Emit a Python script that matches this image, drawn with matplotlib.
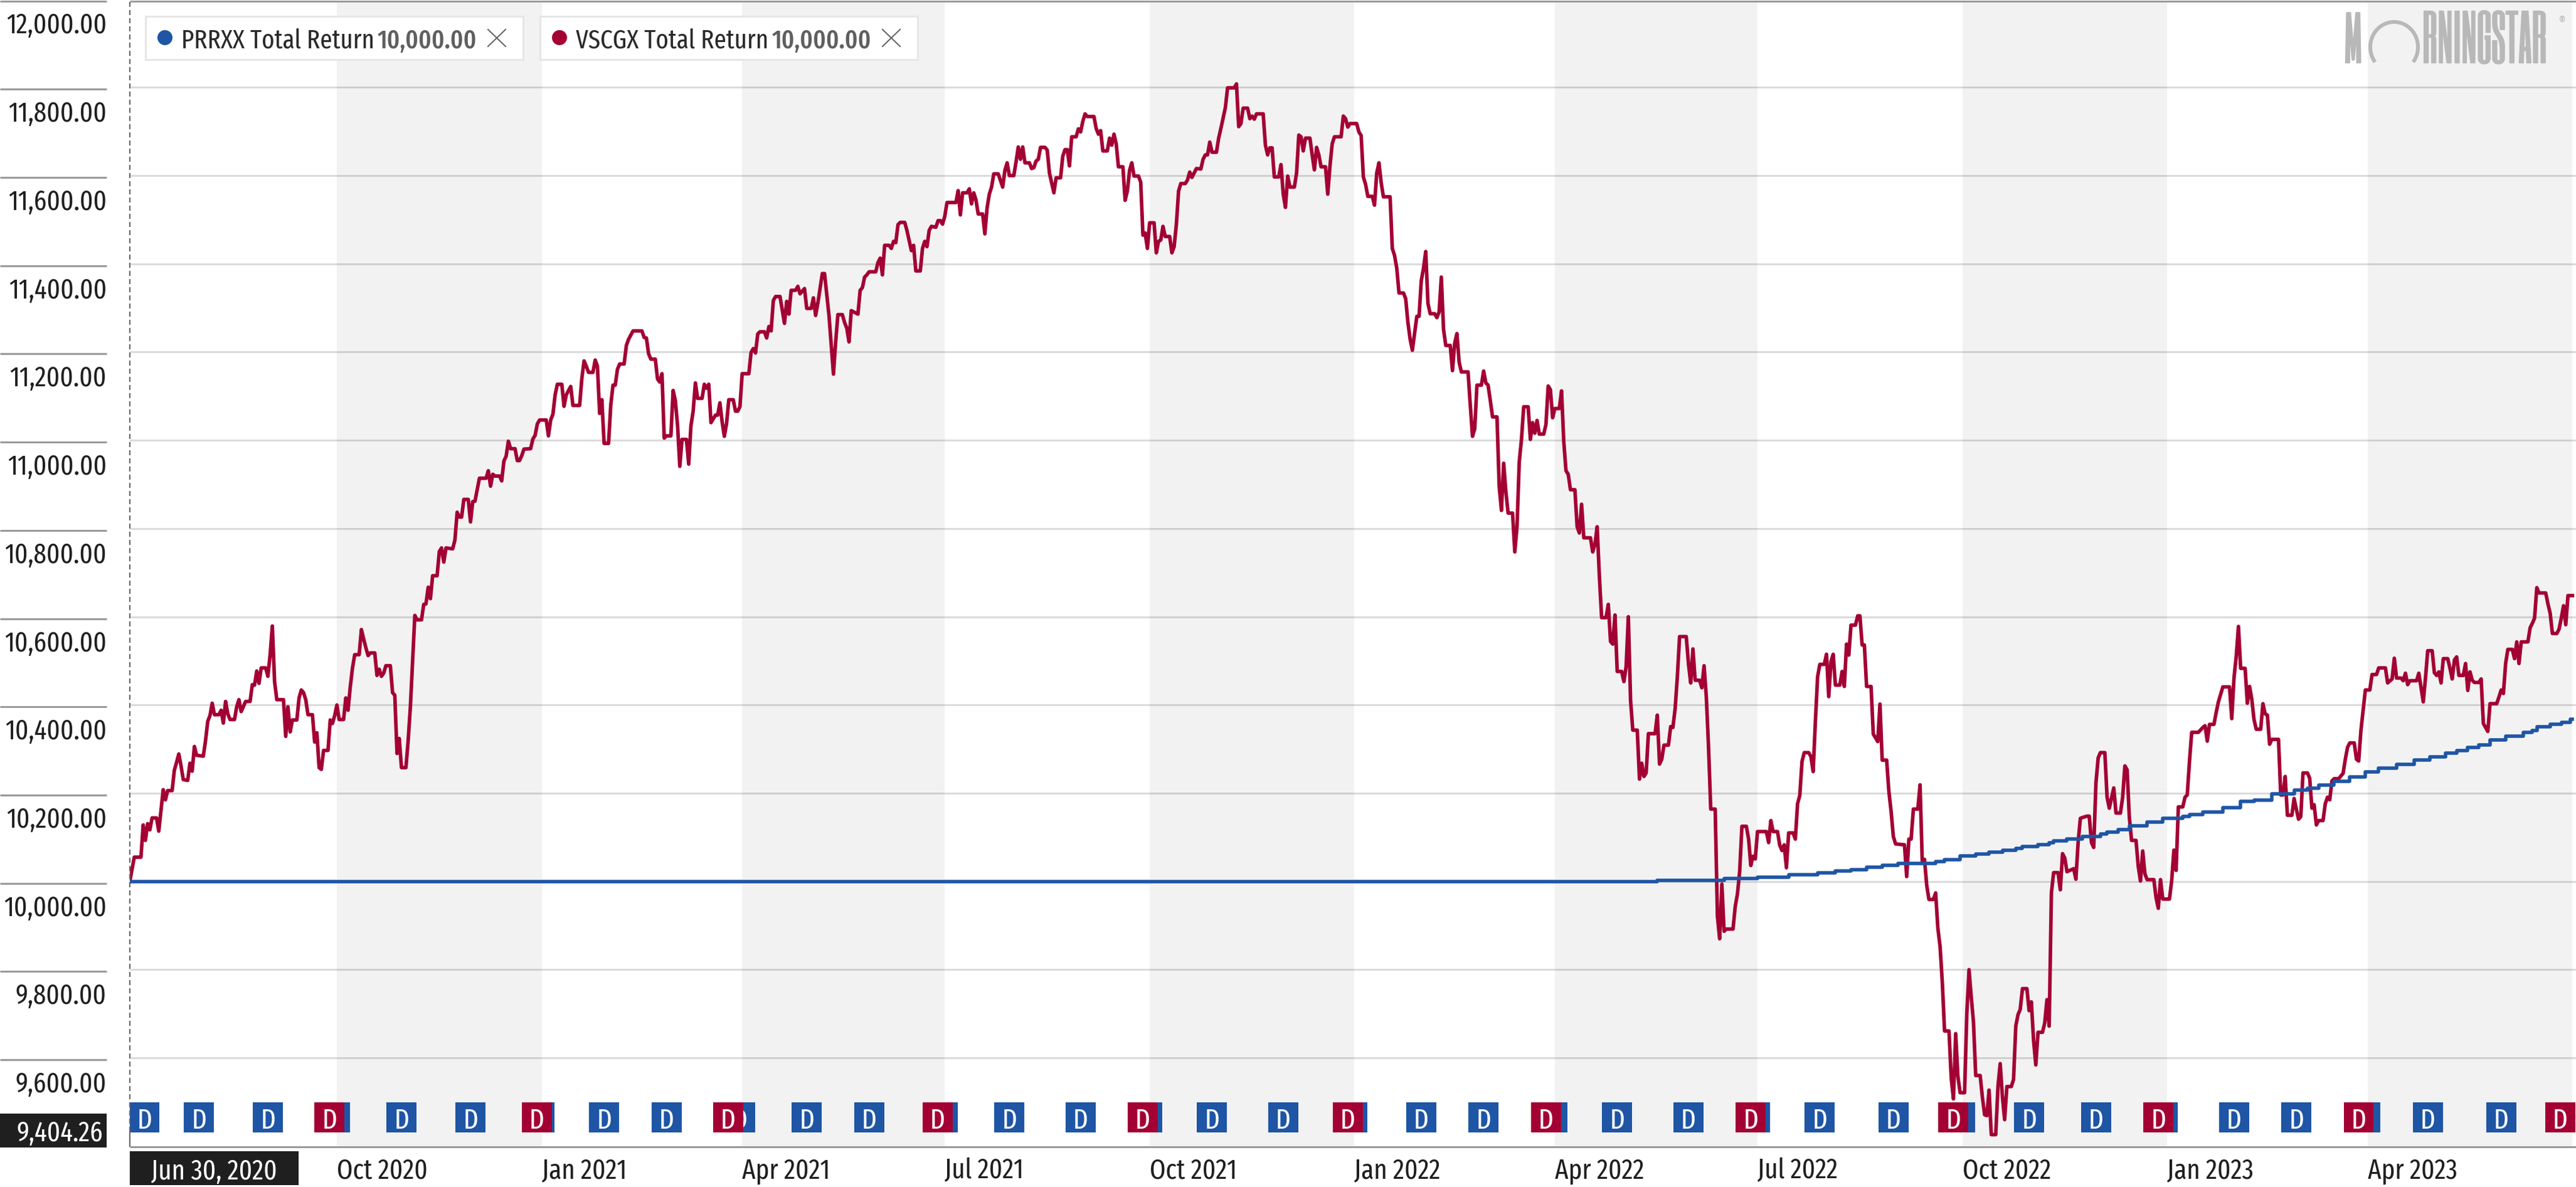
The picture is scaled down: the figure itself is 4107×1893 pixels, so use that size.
import numpy as np
import matplotlib
matplotlib.use('Agg')
import matplotlib.pyplot as plt
from matplotlib.lines import Line2D
from matplotlib.patches import Rectangle, Circle
from matplotlib.patheffects import withStroke
from matplotlib.transforms import Affine2D

W, H = 4107, 1893

#%% data - x is days since Jun 30, 2020

vscgx_days = [
    0,2,5,6,7,8,9,10,12,13,15,16,17,19,20,21,22,23,24,26,
    27,28,29,30,33,34,35,36,37,38,40,41,42,43,44,45,47,48,49,50,
    52,54,55,56,57,58,59,61,62,63,64,65,66,69,70,71,72,73,75,76,
    77,78,79,80,82,83,84,85,86,87,89,90,91,92,93,94,96,97,98,99,
    100,101,103,104,105,106,107,108,110,111,112,113,114,115,117,118,119,120,121,122,
    124,125,126,127,128,129,131,132,133,134,135,136,138,139,140,141,142,145,146,147,
    148,149,150,152,153,154,155,156,157,160,161,162,163,164,166,167,168,169,170,171,
    173,174,175,176,177,180,181,182,183,184,187,188,189,190,191,192,194,195,196,198,
    199,202,203,204,205,206,208,
    209,210,211,212,213,215,216,217,218,219,220,222,223,224,226,230,231,232,233,234,
    236,237,238,239,240,241,243,244,245,246,247,248,250,251,252,253,254,255,257,258,
    259,260,261,263,264,265,266,267,268,269,271,272,273,274,275,278,279,280,281,282,
    283,285,286,287,288,289,290,292,294,
    295,296,297,299,300,301,303,304,306,307,308,309,311,312,314,316,317,318,320,321,
    322,323,324,327,328,329,330,331,332,335,336,337,338,339,341,342,343,344,345,346,
    348,349,351,352,353,355,356,357,358,359,360,362,363,364,365,366,367,371,372,373,
    374,376,377,378,379,380,381,383,384,385,386,387,388,390,392,393,394,395,397,398,
    399,400,401,402,404,405,406,407,408,409,411,412,413,415,416,418,419,420,421,422,
    423,425,426,427,428,429,430,433,434,435,436,437,439,440,441,442,443,444,446,447,
    448,449,450,451,453,454,455,456,457,458,460,461,462,463,464,465,467,468,469,470,
    471,472,474,475,476,477,479,481,482,483,484,485,486,488,489,490,492,493,496,497,
    498,499,500,502,503,504,505,506,509,510,511,512,513,514,516,517,518,519,520,521,
    523,524,525,526,527,528,530,531,532,533,534,535,537,538,539,540,541,544,545,546,
    547,548,551,552,553,554,555,556,558,559,560,561,562,563,566,567,568,569,570,572,
    573,574,575,576,578,579,580,581,
    582,583,584,586,587,588,589,590,591,593,594,595,596,597,598,601,602,603,604,605,
    607,608,609,610,611,612,614,
    615,616,617,618,619,621,622,623,624,625,626,628,629,630,631,632,633,635,636,637,
    638,639,640,642,643,644,645,646,647,649,650,651,652,653,656,657,658,659,660,661,
    663,664,665,666,667,668,670,671,672,673,674,675,677,678,679,680,681,682,685,686,
    687,688,689,691,692,693,694,695,696,699,700,701,702,703,705,706,707,708,709,710,
    712,713,714,715,716,717,720,721,722,723,724,726,727,728,729,730,731,735,736,737,
    738,740,741,742,743,744,745,747,748,749,750,751,752,754,755,756,757,758,759,761,
    762,763,764,765,766,768,769,770,771,772,773,775,776,777,778,779,780,782,783,785,
    786,787,789,790,791,792,793,797,798,799,800,801,803,804,
    805,806,807,808,810,811,812,813,814,815,817,818,819,820,821,822,824,825,826,827,
    828,829,831,832,833,834,835,836,838,839,840,841,842,843,845,846,847,848,849,850,
    852,853,854,855,856,857,859,860,861,862,
    863,864,866,867,868,869,870,873,874,875,876,877,879,880,881,882,883,884,885,887,
    888,889,891,892,894,895,896,897,898,899,901,902,903,904,905,906,909,910,911,912,
    913,916,917,918,919,920,922,923,924,925,926,929,931,932,933,934,936,937,938,940,
    943,944,945,946,947,948,950,951,952,953,954,955,957,958,959,960,961,962,965,966,
    967,968,969,971,972,973,974,975,976,978,979,980,981,982,983,985,986,987,988,989,
    990,992,994,995,996,997,999,1000,1001,1002,1004,1006,1007,1009,1010,1013,1014,1016,1017,1018,
    1020,1021,1022,1023,1024,1027,1028,1029,1030,1031,1032,1034,1035,1036,1037,1038,1039,1041,1042,1043,
    1044,1045,1046,1048,1049,1050,1051,1052,1053,1055,1056,1057,1059,1060,1063,1064,1065,1066,1067,1068,
    1070,1071,1072,1073,1074,1077,1078,1079,1080,1081,1082,1085,1086,1087,1088,1090,1091,1092,1093,1094,
    1095,1097]

vscgx_values = [
    10000,10055,10055,10128,10093,10131,10117,10144,10144,10114,10208,10185,10206,10206,10252,10270,10289,10262,10231,10229,
    10268,10250,10306,10286,10284,10319,10363,10376,10404,10378,10378,10388,10359,10408,10380,10367,10367,10396,10412,10385,
    10408,10408,10446,10445,10477,10449,10484,10484,10465,10514,10579,10453,10412,10412,10329,10396,10339,10366,10366,10416,
    10434,10428,10412,10378,10378,10316,10337,10258,10254,10297,10297,10366,10358,10376,10400,10367,10367,10416,10388,10441,
    10484,10514,10514,10571,10550,10530,10512,10518,10518,10467,10481,10465,10472,10489,10489,10428,10422,10290,10324,10258,
    10258,10319,10396,10498,10603,10593,10593,10628,10629,10667,10641,10693,10693,10748,10756,10724,10756,10754,10774,10837,
    10826,10826,10866,10866,10815,10861,10862,10888,10914,10914,10931,10896,10923,10919,10919,10908,10953,10964,10998,10981,
    10981,10954,10954,10965,10980,10981,11003,11011,11037,11046,11046,11010,11046,11059,11103,11127,11127,11077,11103,11122,
    11079,11079,11140,11180,11168,11154,11154,
    11182,11168,11061,11092,10993,10993,11080,11125,11125,11161,11173,11173,11215,11229,11248,11248,11233,11232,11196,11184,
    11184,11139,11132,11151,11005,11010,11010,11113,11090,11033,10941,11002,11002,10946,11033,11066,11130,11095,11095,11127,
    11118,11127,11040,11057,11057,11085,11042,11009,11038,11092,11092,11066,11066,11076,11151,11151,11199,11208,11198,11241,
    11246,11246,11232,11258,11248,11317,11326,11326,11265,
    11315,11286,11340,11340,11349,11332,11344,11299,11299,11323,11283,11311,11378,11378,11283,11150,11223,11285,11285,11267,
    11254,11223,11294,11286,11340,11346,11370,11375,11382,11382,11403,11413,11375,11442,11442,11435,11451,11448,11489,11494,
    11494,11476,11430,11442,11384,11384,11435,11451,11439,11476,11485,11483,11498,11498,11490,11508,11539,11539,11566,11511,
    11561,11561,11570,11536,11561,11545,11513,11513,11468,11527,11558,11574,11604,11604,11574,11612,11629,11600,11600,11631,
    11665,11637,11665,11629,11629,11616,11618,11633,11637,11664,11664,11658,11606,11561,11595,11595,11644,11659,11659,11622,
    11688,11688,11706,11699,11723,11740,11734,11734,11707,11694,11702,11656,11656,11685,11669,11694,11672,11620,11620,11544,
    11565,11612,11629,11599,11599,11585,11465,11470,11435,11493,11493,11425,11451,11454,11485,11462,11462,11425,11439,11489,
    11565,11582,11582,11590,11608,11596,11616,11615,11637,11647,11647,11676,11653,11653,11685,11707,11754,11799,11799,11808,
    11711,11718,11753,11753,11729,11735,11728,11740,11740,11669,11647,11663,11663,11597,11597,11625,11558,11528,11599,11574,
    11574,11606,11692,11688,11656,11685,11685,11647,11613,11664,11647,11620,11620,11558,11622,11672,11688,11688,11735,11729,
    11710,11718,11718,11699,11691,11597,11580,11553,11553,11533,11606,11629,11584,11552,11552,11435,11419,11390,11334,11334,
    11321,11267,11229,11204,11281,11281,11362,11390,
    11428,11310,11287,11287,11278,11291,11370,11251,11215,11215,11158,11220,11242,11177,11155,11155,11080,11009,11026,11125,
    11125,11157,11130,11125,11090,11053,11053,
    10895,10841,10948,10883,10835,10835,10747,10804,10951,11002,11076,11076,11002,11040,11016,11045,11014,11014,11036,11123,
    11115,11051,11072,11072,11112,10997,10931,10923,10888,10888,10804,10790,10855,10779,10779,10747,10764,10804,10691,10598,
    10598,10628,10544,10538,10604,10476,10476,10453,10487,10600,10410,10343,10343,10232,10268,10238,10246,10335,10335,10377,
    10266,10277,10309,10309,10351,10349,10391,10464,10555,10555,10493,10450,10527,10456,10456,10439,10489,10419,10306,10164,
    10164,9921,9870,9994,9887,9892,9892,9943,9972,10023,10125,10125,10096,10036,10057,10051,10113,10113,10088,10138,
    10113,10113,10082,10070,10083,10031,10110,10110,10096,10176,10195,10272,10292,10292,10283,10249,10362,10464,10492,10492,
    10515,10419,10498,10515,10445,10445,10476,10442,10538,10513,10581,10581,10602,10602,10536,10536,10442,10442,10334,10317,
    10402,10275,10275,10204,10159,10102,10085,10083,10011,10096,10096,10164,10164,10219,
    10043,10050,9991,9959,9959,9974,9894,9852,9771,9661,9661,9554,9507,9655,9558,9521,9521,9700,9800,9738,
    9681,9560,9560,9511,9471,9469,9527,9426,9426,9535,9587,9511,9460,9535,9535,9551,9672,9698,9710,9757,
    9757,9707,9727,9639,9584,9658,9658,9679,9732,9672,
    9974,10020,10020,9981,10063,10053,10022,10029,10005,10088,10143,10145,10148,10148,10088,10077,10223,10280,10292,10292,
    10191,10166,10212,10155,10155,10191,10262,10253,10145,10093,10093,10034,10001,10069,10017,10004,10004,9963,9939,10004,
    9960,9960,10001,10071,10025,10169,10169,10191,10196,10272,10338,10338,10349,10353,10318,10356,10356,10383,10407,10441,
    10441,10369,10461,10510,10578,10483,10483,10404,10442,10413,10367,10345,10345,10403,10380,10377,10311,10322,10322,10196,
    10196,10238,10150,10150,10188,10164,10141,10147,10246,10246,10234,10166,10174,10128,10138,10138,10176,10191,10185,10228,
    10233,10233,10245,10277,10304,10314,10314,10277,10273,10342,10434,10434,10469,10469,10484,10484,10450,10459,10506,10461,
    10461,10455,10472,10446,10455,10455,10472,10440,10407,10461,10523,10523,10473,10467,10475,10450,10505,10505,10483,10459,
    10502,10509,10467,10467,10494,10433,10475,10456,10451,10451,10459,10358,10340,10403,10403,10418,10434,10426,10494,10526,
    10526,10505,10543,10494,10543,10543,10575,10585,10597,10666,10654,10654,10629,10608,10562,10562,10572,10597,10625,10582,
    10648,10648]

prrxx_days = [0,686,716,731,745,758,766,773,780,787,794,811,815,822,829,835,841,847,850,857,
    862,864,870,877,885,888,893,898,906,913,922,925,931,940,948,954,962,972,978,983,
    990,997,1004,1010,1018,1026,1033,1040,1045,1050,1055,1060,1067,1075,1079,1081,1087,1092,1096,1097]
prrxx_values = [9999,10002,10006,10010,10015,10019,10024,10027,10032,10036,10041,10045,10050,10058,10062,10067,10071,10075,10079,10083,
    10088,10092,10096,10102,10108,10112,10117,10126,10134,10143,10147,10152,10158,10167,10181,10185,10198,10207,10211,10219,
    10227,10237,10249,10257,10265,10275,10283,10291,10296,10304,10309,10321,10330,10338,10342,10350,10356,10360,10368,10368]

# dividend flags
prrxx_div_days = [6.5,31,62,92,122,153,184,213,241,274,304,332,365,395,427,457,486,518,
    549,580,608,639,668,700,730,759,792,822,853,883,913,945,973,1004,1032,1065]
vscgx_div_days = [89.6,182.8,268.7,362.8,454.9,547,636,728,819,911,1001,1091.5]

band_starts = [93,275,458,640,823,1005]
band_ends = [185,366,550,731,915,1097]

tick_days = [93,185,275,366,458,550,640,731,823,915,1005]
tick_labels = ['Oct 2020','Jan 2021','Apr 2021','Jul 2021','Oct 2021','Jan 2022',
               'Apr 2022','Jul 2022','Oct 2022','Jan 2023','Apr 2023']

y_values = [9600,9800,10000,10200,10400,10600,10800,11000,11200,11400,11600,11800]
y_labels = ['9,600.00','9,800.00','10,000.00','10,200.00','10,400.00','10,600.00','10,800.00',
            '11,000.00','11,200.00','11,400.00','11,600.00','11,800.00']

#%% style

RED = '#a30034'
BLUE = '#1e55a5'
GREY_LINE = '#9a9a9a'
INK = '#1f1f1f'
plt.rcParams['font.family'] = ['Fira Sans Extra Condensed', 'Liberation Sans', 'DejaVu Sans']
FS = 32

fig = plt.figure(figsize=(W/100, H/100), dpi=100, facecolor='white')
ax = fig.add_axes([207/W, (H-1828)/H, 3900/W, 1827/H])
ax.set_xlim(0, 1098.6)
ax.set_ylim(9399.7, 11996.7)
for s in ax.spines.values():
    s.set_visible(False)

# pixel coordinates of the reference, y pointing down
px = Affine2D().scale(1, -1).translate(0, H)

for a, b in zip(band_starts, band_ends):
    ax.axvspan(a, b, color='#f2f2f2', lw=0, zorder=0)
for v in y_values:
    ax.axhline(v, color=(0, 0, 0, 0.14), lw=2.16, zorder=1)

ax.plot(vscgx_days, vscgx_values, color=RED, lw=4.1, zorder=3, solid_joinstyle='round')
ax.plot(prrxx_days, prrxx_values, color=BLUE, lw=4, zorder=4, drawstyle='steps-post')

ax.bar(prrxx_div_days, 68, bottom=9431, width=13.5, color=BLUE, lw=0, zorder=5)
for d in prrxx_div_days:
    ax.text(d, 9439.5, 'D', color='white', fontsize=FS, ha='center', va='baseline', zorder=6)
ax.bar(vscgx_div_days, 68, bottom=9431, width=13.5, color=RED, lw=0, zorder=7)
for d in vscgx_div_days:
    ax.text(d, 9439.5, 'D', color='white', fontsize=FS, ha='center', va='baseline', zorder=8)

ax.set_yticks([])
ax.set_xticks(tick_days)
ax.set_xticklabels(tick_labels, fontsize=FS, color=INK, ha='left')
ax.tick_params(axis='x', length=0, pad=13)

#%% frame and y labels, drawn outside the axes

def hline(x0, x1, y):
    fig.add_artist(Line2D([x0, x1], [y, y], transform=px, color=GREY_LINE, lw=2.16, solid_capstyle='butt'))

hline(0, 170, 1.5)
hline(207, W, 1.5)
hline(207, W, 1828.5)
fig.add_artist(Line2D([207, 207], [3, 1806], transform=px, color='#666666', lw=1.44, linestyle=(0, (4, 2.5))))
fig.add_artist(Line2D([207, 207], [1806, 1828], transform=px, color='#666666', lw=1.44))

for v, lab in zip(y_values, y_labels):
    yp = H - ax.transData.transform((0, v))[1]
    hline(0, 170, yp + 3)
    fig.text(170, yp + 55, lab, transform=px, color=INK, fontsize=FS, ha='right', va='baseline')
fig.text(170, 53, '12,000.00', transform=px, color=INK, fontsize=FS, ha='right', va='baseline')

fig.add_artist(Rectangle((0, 1776), 170, 54, transform=px, color=INK, lw=0))
fig.text(164, 1820, '9,404.26', transform=px, color='white', fontsize=FS, ha='right', va='baseline')
fig.add_artist(Rectangle((207, 1836), 269, 54, transform=px, color=INK, lw=0))
fig.text(241, 1881, 'Jun 30, 2020', transform=px, color='white', fontsize=FS, ha='left', va='baseline')

#%% legend chips

def chip(x, color, name):
    fig.add_artist(Rectangle((x + 1.5, 25.5), 602, 69, transform=px, facecolor='white', edgecolor='#e6e6e6', lw=2.16))
    fig.add_artist(Circle((x + 33, 60), 12, transform=px, color=color, lw=0))
    fig.text(x + 59, 77, name, transform=px, color='#2a2a2a', fontsize=30.5, ha='left', va='baseline')
    fig.text(x + 372, 77, '10,000.00', transform=px, color='#5f5f5f', fontsize=30, fontweight='medium', ha='left', va='baseline')
    fig.add_artist(Line2D([x + 548, x + 576], [47, 74], transform=px, color='#666666', lw=1.5))
    fig.add_artist(Line2D([x + 548, x + 576], [74, 47], transform=px, color='#666666', lw=1.5))

chip(230, BLUE, 'PRRXX Total Return')
chip(859, RED, 'VSCGX Total Return')

#%% logo

LOGO = '#b8b8b8'
LOGO_FONT = ['Six Caps', 'Fira Sans Extra Condensed', 'Liberation Sans']
thick = [withStroke(linewidth=1.6, foreground=LOGO)]
fig.text(3737, 100, 'M', transform=px, color=LOGO, fontsize=68, family=LOGO_FONT, ha='left', va='baseline', path_effects=thick)
fig.text(3862, 100, 'RNINGSTAR', transform=px, color=LOGO, fontsize=70, family=LOGO_FONT, ha='left', va='baseline', path_effects=thick)
theta = np.radians(np.linspace(143, 397, 80))
fig.add_artist(Line2D(3817 + 38*np.cos(theta), 75 + 40*np.sin(theta), transform=px, color=LOGO, lw=4.3,
                      solid_capstyle='butt'))
fig.text(4085, 40, '\u00ae', transform=px, color=LOGO, fontsize=14, ha='center', va='baseline')

fig.savefig('out.png', dpi=100, facecolor='white')
